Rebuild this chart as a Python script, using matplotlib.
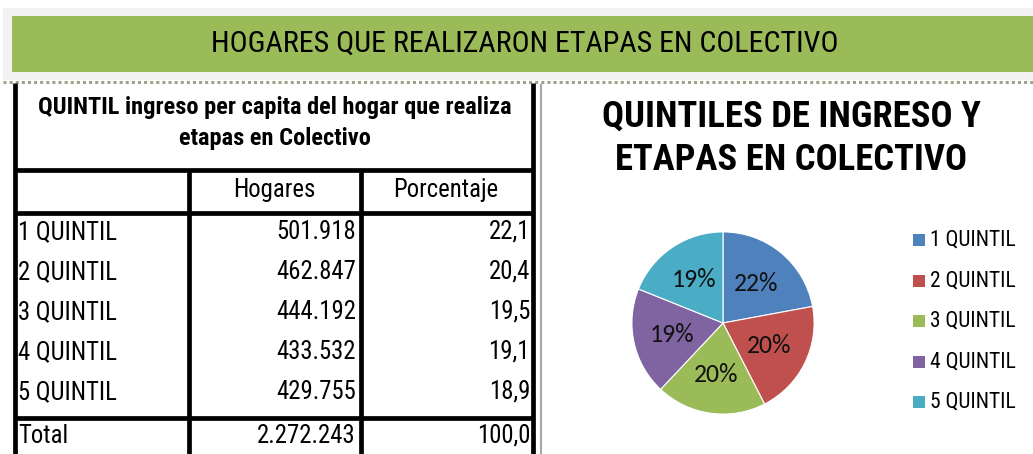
import matplotlib
matplotlib.use("Agg")
import matplotlib.pyplot as plt
from matplotlib.patches import Rectangle

# data
quintiles = ["1 QUINTIL", "2 QUINTIL", "3 QUINTIL", "4 QUINTIL", "5 QUINTIL"]
hogares = [501918, 462847, 444192, 433532, 429755]
porcentaje = [22.1, 20.4, 19.5, 19.1, 18.9]
total_hogares = 2272243
total_pct = 100.0
colors = ["#4f81bd", "#c0504d", "#9bbb59", "#8064a2", "#4bacc6"]

banner = "HOGARES QUE REALIZARON ETAPAS EN COLECTIVO"
table_title = "QUINTIL ingreso per capita del hogar que realiza\netapas en Colectivo"
pie_title = "QUINTILES DE INGRESO Y\nETAPAS EN COLECTIVO"

NARROW = ["Roboto Condensed", "DejaVu Sans"]
CALIBRI = ["Carlito", "DejaVu Sans"]
W, H = 1033, 454


def fmt_miles(v):
    return f"{v:,}".replace(",", ".")


def fmt_dec(v):
    return f"{v:.1f}".replace(".", ",")


fig = plt.figure(figsize=(W / 100, H / 100), dpi=100)
bg = fig.add_axes([0, 0, 1, 1])
bg.set_xlim(0, W)
bg.set_ylim(H, 0)
bg.axis("off")

# banner
bg.add_patch(Rectangle((3, 8), W, 72, color="#f2f2f2", lw=0))
bg.add_patch(Rectangle((12, 16), W, 56, color="#9bbb59", lw=0))
bg.text(525, 44, banner, ha="center", va="center", fontsize=21.6,
        family=NARROW, color="black")
bg.plot([3, W], [82, 82], color="#9aa68a", lw=2.2, ls=(0, (1, 1)))

# table
lw = 3.4
left, c1, c2, right = 15, 189, 361, 533
top, head, body, foot = 83, 170, 213, 418
for x in (left, right):
    bg.plot([x, x], [top, H], color="black", lw=lw, solid_capstyle="butt")
for x in (c1, c2):
    bg.plot([x, x], [head, H], color="black", lw=lw, solid_capstyle="butt")
for y in (head, body, foot):
    bg.plot([left, right], [y, y], color="black", lw=lw, solid_capstyle="butt")

fs = 17.8
bg.text(275, 123, table_title, ha="center", va="center", fontsize=17.6,
        fontweight="bold", family=NARROW, linespacing=1.45)
bg.text(274, 190, "Hogares", ha="center", va="center", fontsize=fs, family=NARROW)
bg.text(446, 190, "Porcentaje", ha="center", va="center", fontsize=fs, family=NARROW)

row_y0, row_step = 232, 40
for i, (q, h, p) in enumerate(zip(quintiles, hogares, porcentaje)):
    y = row_y0 + i * row_step
    bg.text(left + 3, y, q, ha="left", va="center", fontsize=fs, family=NARROW)
    bg.text(c1 + 167, y, fmt_miles(h), ha="right", va="center", fontsize=fs, family=NARROW)
    bg.text(c2 + 169, y, fmt_dec(p), ha="right", va="center", fontsize=fs, family=NARROW)
bg.text(left + 3, 436, "Total", ha="left", va="center", fontsize=fs, family=NARROW)
bg.text(c1 + 167, 436, fmt_miles(total_hogares), ha="right", va="center", fontsize=fs, family=NARROW)
bg.text(c2 + 169, 436, fmt_dec(total_pct), ha="right", va="center", fontsize=fs, family=NARROW)

# separator
bg.plot([541, 541], [85, H], color="#a6a6a6", lw=1.5)

# pie
bg.text(791, 138, pie_title, ha="center", va="center", fontsize=26.4,
        fontweight="bold", family=NARROW, linespacing=1.25)

cx, cy, r = 723, 323, 92
pax = fig.add_axes([(cx - r) / W, (H - cy - r) / H, 2 * r / W, 2 * r / H])
wedges, _, autotexts = pax.pie(
    hogares, colors=colors, startangle=90, counterclock=False,
    autopct="%1.0f%%", pctdistance=0.57,
    wedgeprops=dict(linewidth=0.8, edgecolor="white"),
    textprops=dict(fontsize=18.5, family=CALIBRI, color="#111111"))
pax.set_xlim(-1.01, 1.01)
pax.set_ylim(-1.01, 1.01)
pax.axis("off")

# legend
ly0, lstep = 240, 40.6
for i, (q, c) in enumerate(zip(quintiles, colors)):
    y = ly0 + i * lstep
    bg.add_patch(Rectangle((913, y - 6), 12, 12, color=c, lw=0))
    bg.text(930, y, q, ha="left", va="center", fontsize=15.5, family=NARROW)

fig.savefig("out.png", dpi=100)
